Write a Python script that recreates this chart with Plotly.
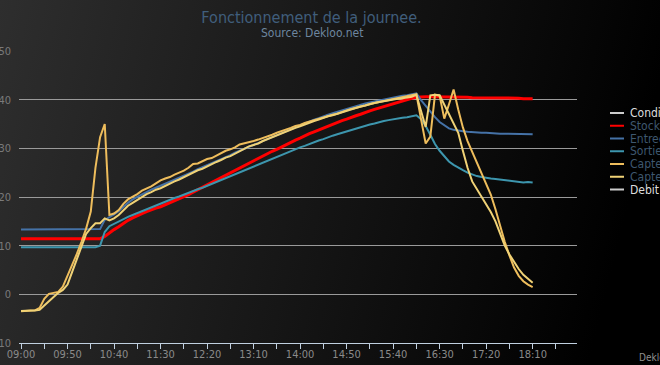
import base64
import pandas as pd
import plotly.graph_objects as go

# ---------------- data ----------------
times = pd.date_range("2013-06-01 09:00", "2013-06-01 18:10", freq="5min")

series_names = ["Condition", "Stock ballon", "Entree capteurs", "Sortie capteurs",
                "Capteur 1", "Capteur 2", "Debit pompe"]

stock = [11.4] * 18 + [
    11.9, 12.7, 13.3, 13.9, 14.6, 15.2, 15.7, 16.2, 16.6, 17.0, 17.4, 17.7, 18.0,
    18.4, 18.8, 19.3, 19.7, 20.1, 20.5, 21.0, 21.5, 22.0, 22.5, 23.0, 23.5, 24.0,
    24.5, 25.0, 25.5, 26.0, 26.5, 27.0, 27.5, 28.0, 28.4, 28.9, 29.4, 29.8, 30.3,
    30.8, 31.2, 31.7, 32.1, 32.6, 33.0, 33.4, 33.8, 34.2, 34.6, 35.0, 35.3, 35.7,
    36.0, 36.4, 36.7, 37.0, 37.4, 37.7, 38.0, 38.3, 38.6, 38.9, 39.2, 39.5, 39.8,
    40.1, 40.3, 40.5, 40.6, 40.6, 40.6, 40.6, 40.6, 40.6, 40.5, 40.5, 40.5, 40.5,
    40.5, 40.4, 40.4, 40.4, 40.4, 40.4, 40.3, 40.3, 40.3, 40.3, 40.3, 40.3, 40.2,
    40.2, 40.2]

entree = [13.3, 13.3, 13.3, 13.3, 13.3, 13.3, 13.3, 13.3, 13.4, 13.4, 13.4, 13.4,
          13.4, 13.3, 13.3, 13.3, 13.3,
          13.4, 15.3, 15.8, 16.4, 17.1, 18.0, 18.8, 19.5, 20.0, 20.6, 21.1, 21.5,
          21.9, 22.3, 22.7, 23.1, 23.5, 23.9, 24.4, 24.8, 25.2, 25.7, 26.1, 26.5,
          26.9, 27.3, 27.8, 28.2, 28.6, 29.1, 29.5, 29.9, 30.3, 30.7, 31.2, 31.6,
          32.0, 32.4, 32.8, 33.2, 33.6, 34.0, 34.4, 34.8, 35.2, 35.5, 35.9, 36.2,
          36.6, 36.9, 37.2, 37.5, 37.8, 38.1, 38.4, 38.7, 38.9, 39.2, 39.4, 39.6,
          39.9, 40.1, 40.3, 40.5, 40.7, 40.8, 40.9, 41.1, 41.3, 39.9, 38.7, 37.5,
          36.4, 35.4, 34.7, 34.1, 33.8, 33.6, 33.5, 33.4, 33.3, 33.3, 33.2, 33.2,
          33.1, 33.1, 33.0, 33.0, 33.0, 32.9, 32.9, 32.9, 32.9, 32.9]

sortie = [9.7] * 17 + [
    10.0, 12.8, 14.0, 14.5, 15.0, 15.5, 15.9, 16.3, 16.7, 17.1, 17.5, 17.9, 18.3,
    18.7, 19.1, 19.4, 19.8, 20.1, 20.5, 20.8, 21.2, 21.6, 21.9, 22.3, 22.7, 23.1,
    23.5, 23.9, 24.3, 24.7, 25.1, 25.5, 25.9, 26.3, 26.7, 27.1, 27.5, 27.8, 28.2,
    28.6, 29.0, 29.4, 29.8, 30.2, 30.5, 30.9, 31.2, 31.6, 31.9, 32.3, 32.6, 32.9,
    33.2, 33.5, 33.8, 34.1, 34.3, 34.6, 34.9, 35.1, 35.4, 35.6, 35.8, 36.0, 36.1,
    36.3, 36.4, 36.6, 36.8, 36.0, 34.6, 32.8, 30.9, 29.5, 28.3, 27.3, 26.6, 26.0,
    25.5, 25.0, 24.6, 24.3, 24.1, 23.9, 23.8, 23.7, 23.6, 23.5, 23.4, 23.3, 23.1,
    23.0, 23.1, 23.0]

capteur1 = [-3.5, -3.4, -3.4, -3.3, -2.8, -0.9, 0.1, 0.3, 0.5, 1.6, 3.8, 6.0, 8.3,
            10.8, 13.5, 17.0, 26.0, 32.3, 35.0, 16.3, 16.6, 17.3, 18.6, 19.5, 20.0,
            20.6, 21.3, 21.7, 22.2, 22.8, 23.4, 23.8, 24.1, 24.6, 25.0, 25.4, 26.0,
            26.8, 26.9, 27.3, 27.8, 28.0, 28.5, 29.0, 29.5, 29.8, 30.2, 30.8, 31.0,
            31.2, 31.5, 31.8, 32.1, 32.5, 32.8, 33.2, 33.5, 33.9, 34.2, 34.6, 34.8,
            35.2, 35.5, 35.8, 36.1, 36.4, 36.7, 36.9, 37.1, 37.5, 37.8, 38.1, 38.3,
            38.6, 38.8, 39.1, 39.3, 39.5, 39.7, 39.9, 40.1, 40.2, 40.4, 40.6, 40.8,
            41.1, 36.0, 31.0, 32.4, 41.0, 40.8, 36.1, 39.0, 42.1, 38.0, 34.3, 31.5,
            29.3, 27.3, 25.0, 23.0, 20.5, 17.5, 14.0, 10.8, 8.0, 5.5, 3.8, 2.7, 2.0,
            1.5]

capteur2 = [-3.4, -3.3, -3.3, -3.3, -3.2, -2.3, -1.4, -0.5, 0.3, 0.9, 2.0, 4.6, 7.2,
            9.8, 12.4, 13.6, 14.6, 14.6, 15.6, 15.2, 15.6, 16.3, 17.2, 18.2, 18.8,
            19.4, 20.0, 20.6, 21.0, 21.5, 21.8, 22.3, 22.7, 23.2, 23.6, 24.1, 24.5,
            25.0, 25.5, 25.8, 26.3, 26.7, 27.2, 27.6, 28.1, 28.4, 28.9, 29.4, 29.9,
            30.4, 30.7, 31.0, 31.5, 31.9, 32.3, 32.6, 33.1, 33.4, 33.8, 34.2, 34.5,
            34.9, 35.2, 35.6, 35.9, 36.3, 36.6, 36.8, 37.1, 37.5, 37.8, 38.1, 38.3,
            38.6, 38.8, 39.1, 39.3, 39.5, 39.7, 39.9, 40.1, 40.2, 40.3, 40.5, 40.6,
            41.0, 37.6, 34.4, 40.9, 41.0, 40.9, 39.0, 37.0, 35.3, 33.2, 29.5, 26.0,
            23.2, 21.6, 20.0, 18.6, 16.9, 15.0, 12.6, 10.0, 8.2, 6.6, 5.2, 4.0, 3.1,
            2.4]

for s in (stock, entree, sortie, capteur1, capteur2):
    assert len(s) == len(times), len(s)

# ---------------- style ----------------
W, H = 660, 365
ML, MR, MT, MB = 19, 83, 51, 22
PW, PH = W - ML - MR, H - MT - MB
FONT = "DejaVu Sans Condensed, DejaVu Sans, sans-serif"

colors = ["#CCCCCC", "#FF0000", "#4572A7", "#3D96AE", "#EEBD5C", "#F0D276", "#CCCCCC"]
legend_text_colors = ["#DDDDDD", "#3E576F", "#3E576F", "#3E576F", "#3E576F", "#3E576F", "#DDDDDD"]


def px(x):
    return (x - ML) / PW


def py(y):
    return (H - MB - y) / PH


fig = go.Figure()
plotted = [(stock, 1, 3), (entree, 2, 2), (sortie, 3, 2), (capteur1, 4, 2), (capteur2, 5, 2)]
for vals, idx, lw in plotted:
    fig.add_trace(go.Scatter(x=times, y=vals, mode="lines", name=series_names[idx],
                             line=dict(color=colors[idx], width=lw), showlegend=False,
                             hoverinfo="skip"))

# background gradient
svg = ('<svg xmlns="http://www.w3.org/2000/svg" width="660" height="365">'
       '<defs><linearGradient id="g" gradientUnits="userSpaceOnUse" x1="0" y1="0" x2="640" y2="160">'
       '<stop offset="0" stop-color="rgb(46,46,46)"/><stop offset="1" stop-color="rgb(0,0,0)"/>'
       '</linearGradient></defs><rect width="660" height="365" fill="url(#g)"/></svg>')
src = "data:image/svg+xml;base64," + base64.b64encode(svg.encode()).decode()

shapes = []
annotations = []
for i, name in enumerate(series_names):
    yy = 113 + 12.75 * i
    shapes.append(dict(type="line", xref="paper", yref="paper", x0=px(610), x1=px(624),
                       y0=py(yy), y1=py(yy), line=dict(color=colors[i], width=2)))
    annotations.append(dict(text=name, xref="paper", yref="paper", x=px(628), y=py(yy),
                            xanchor="left", yanchor="middle", showarrow=False,
                            font=dict(family=FONT, size=12, color=legend_text_colors[i])))

annotations.append(dict(text="Source: Dekloo.net", xref="paper", yref="paper",
                        x=px(311.5), y=py(32.5), xanchor="center", yanchor="middle",
                        showarrow=False, font=dict(family=FONT, size=12, color="#6D869F")))
annotations.append(dict(text="Dekloo.net", xref="paper", yref="paper",
                        x=px(637), y=py(357), xanchor="left", yanchor="middle",
                        showarrow=False, font=dict(family=FONT, size=10, color="#909090")))

fig.update_layout(
    template="none",
    width=W, height=H,
    margin=dict(l=ML, r=MR, t=MT, b=MB, pad=0, autoexpand=False),
    paper_bgcolor="#000000",
    plot_bgcolor="rgba(0,0,0,0)",
    showlegend=False,
    hovermode=False,
    title=dict(text="Fonctionnement de la journee.", x=px(311.5), xref="paper",
               y=1 - 17.5 / H, yref="container", xanchor="center", yanchor="middle",
               font=dict(family=FONT, size=16, color="#405E7C")),
    images=[dict(source=src, xref="paper", yref="paper", x=-ML / PW, y=1 + MT / PH,
                 sizex=W / PW, sizey=H / PH, xanchor="left", yanchor="top",
                 sizing="stretch", layer="below")],
    shapes=shapes,
    annotations=annotations,
    xaxis=dict(
        type="date", automargin=False,
        range=["2013-06-01 08:57:50", "2013-06-01 18:57:40"],
        tick0="2013-06-01 09:00", dtick=50 * 60 * 1000, tickformat="%H:%M",
        ticks="outside", ticklen=5, tickcolor="#C0D0E0", tickwidth=1,
        minor=dict(dtick=25 * 60 * 1000, tick0="2013-06-01 09:00", ticks="outside",
                   ticklen=5, tickcolor="#C0D0E0", tickwidth=1, showgrid=False),
        showline=True, linecolor="#C0D0E0", linewidth=1,
        showgrid=False, zeroline=False,
        ticklabelstandoff=-4,
        tickfont=dict(family=FONT, size=11, color="#8A8A8A"),
    ),
    yaxis=dict(
        automargin=False,
        range=[-10, 50], dtick=10, tick0=0,
        showgrid=True, gridcolor="#9A9A9A", gridwidth=1,
        zeroline=False, showline=False, ticks="",
        ticklabelstandoff=7,
        tickfont=dict(family=FONT, size=11, color="#7A7A7A"),
    ),
)

fig.write_html("out.html",
               config={"displayModeBar": False, "staticPlot": True},
               post_script="document.body.style.margin='0px';document.body.style.overflow='hidden';")
